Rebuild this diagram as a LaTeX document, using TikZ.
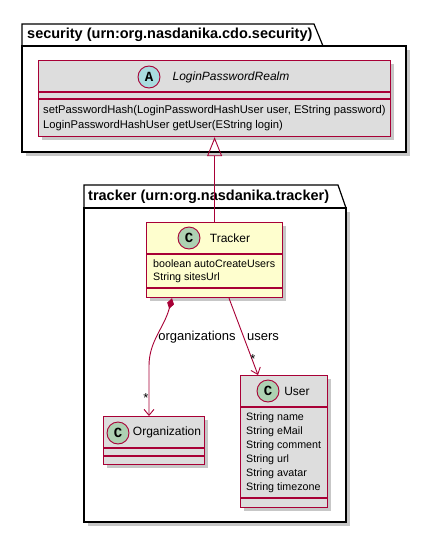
\documentclass[tikz,border=0pt]{standalone}
\usepackage{fontspec}
\setmainfont{Liberation Sans}
\newfontfamily\circfont{Liberation Mono}
\usetikzlibrary{arrows.meta}
\definecolor{umlred}{HTML}{A80036}
\definecolor{umlgray}{HTML}{DDDDDD}
\definecolor{umlyellow}{HTML}{FEFECE}
\definecolor{circgreen}{HTML}{ADD1B2}
\definecolor{circblue}{HTML}{A9DCDF}
\begin{document}
\begin{tikzpicture}[x=1pt,y=-1pt,
    pkg/.style={draw=black, line width=1.2pt, fill=white},
    shade/.style={fill=black!22, draw=none},
    clsbox/.style={draw=umlred, line width=1.2pt, inner sep=0pt, anchor=north west},
    sep/.style={draw=umlred, line width=1.2pt},
    circ/.style={circle, draw=umlred, line width=0.9pt, minimum size=22pt, inner sep=0pt,
      font=\circfont\bfseries\fontsize{14}{14}\selectfont},
    cname/.style={font=\fontsize{12}{14}\selectfont, inner sep=0pt},
    member/.style={font=\fontsize{10.7}{12}\selectfont, anchor=west, inner sep=0pt},
    pkgtitle/.style={font=\bfseries\fontsize{14.5}{16}\selectfont, anchor=west, inner sep=0pt},
    lbl/.style={font=\fontsize{13}{15}\selectfont, inner sep=0pt},
    link/.style={draw=umlred, line width=0.9pt}]
    \useasboundingbox (0,0) rectangle (427,533);

    % Packages
    \fill[shade] (26,50) rectangle (410,156);
    \draw[pkg] (22,46) -- (22,24) -- (314,24) -- (323,46);
    \draw[pkg] (22,46) rectangle (406,152);
    \node[pkgtitle] (sectitle) at (27,35) {security (urn:org.nasdanika.cdo.security)};

    \fill[shade] (88,212) rectangle (350,526);
    \draw[pkg] (84,208) -- (84,185) -- (338,185) -- (346,208);
    \draw[pkg] (84,208) rectangle (346,522);
    \node[pkgtitle] (trktitle) at (88,197) {tracker (urn:org.nasdanika.tracker)};

    % Classes
    \fill[shade] (42,64) rectangle (394,140);
    \node[clsbox, fill=umlgray, minimum width=352pt, minimum height=76pt] (realm) at (38,60) {};
    \draw[sep] (38,92) -- (390,92) (38,99) -- (390,99);
    \node[circ, fill=circblue] (realmcirc) at (149,77) {A};
    \node[cname, font=\itshape\fontsize{12}{14}\selectfont] (realmname) at (231,77) {LoginPasswordRealm};
    \node[member, font=\fontsize{11.2}{12}\selectfont] (realmset) at (43,111) {setPasswordHash(LoginPasswordHashUser user, EString password)};
    \node[member, font=\fontsize{11.2}{12}\selectfont] (realmget) at (43,126) {LoginPasswordHashUser getUser(EString login)};

    \fill[shade] (150,226) rectangle (286,301);
    \node[clsbox, fill=umlyellow, minimum width=136pt, minimum height=75pt] (tracker) at (146,222) {};
    \draw[sep] (146,254) -- (282,254) (146,288) -- (282,288);
    \node[circ, fill=circgreen] (trackercirc) at (189,238) {C};
    \node[cname] (trackername) at (230,238) {Tracker};
    \node[member] (trackerauto) at (153,264) {boolean autoCreateUsers};
    \node[member] (trackerurl) at (153,278) {String sitesUrl};

    \fill[shade] (107,420) rectangle (208,468);
    \node[clsbox, fill=umlgray, minimum width=101pt, minimum height=48pt] (org) at (103,416) {};
    \draw[sep] (103,448) -- (204,448) (103,456) -- (204,456);
    \node[circ, fill=circgreen] (orgcirc) at (118,433) {C};
    \node[cname] (orgname) at (167,432) {Organization};

    \fill[shade] (244,379) rectangle (331,511);
    \node[clsbox, fill=umlgray, minimum width=87pt, minimum height=132pt] (user) at (240,375) {};
    \draw[sep] (240,407) -- (327,407) (240,498) -- (327,498);
    \node[circ, fill=circgreen] (usercirc) at (268,391) {C};
    \node[cname] (username) at (297,391) {User};
    \node[member] (username1) at (246,418) {String name};
    \node[member] (useremail) at (246,432) {String eMail};
    \node[member] (usercomment) at (246,446) {String comment};
    \node[member] (userurl) at (246,460) {String url};
    \node[member] (useravatar) at (246,474) {String avatar};
    \node[member] (usertz) at (246,488) {String timezone};

    % Arcs
    \draw[link, -{Triangle[open, length=19pt, width=15pt]}] (tracker.north) -- (realm.south);

    \draw[link, {Diamond[length=11pt, width=7pt]}-{Straight Barb[length=6pt, width=10pt]}]
      ([xshift=26pt]tracker.south west) .. controls +(-8,30) and +(0,-25) ..
      ([xshift=46pt, yshift=50pt]org.north west) -- ([xshift=46pt]org.north west);
    \node[lbl] (orglbl) at (197,337) {organizations};
    \node[lbl] (orgmult) at (146,398) {*};

    \draw[link, -{Straight Barb[length=6pt, width=10pt]}]
      ([xshift=83pt]tracker.south west) -- ([xshift=18pt]user.north west);
    \node[lbl] (userlbl) at (263,337) {users};
    \node[lbl] (usermult) at (253,359) {*};
  \end{tikzpicture}
\end{document}
